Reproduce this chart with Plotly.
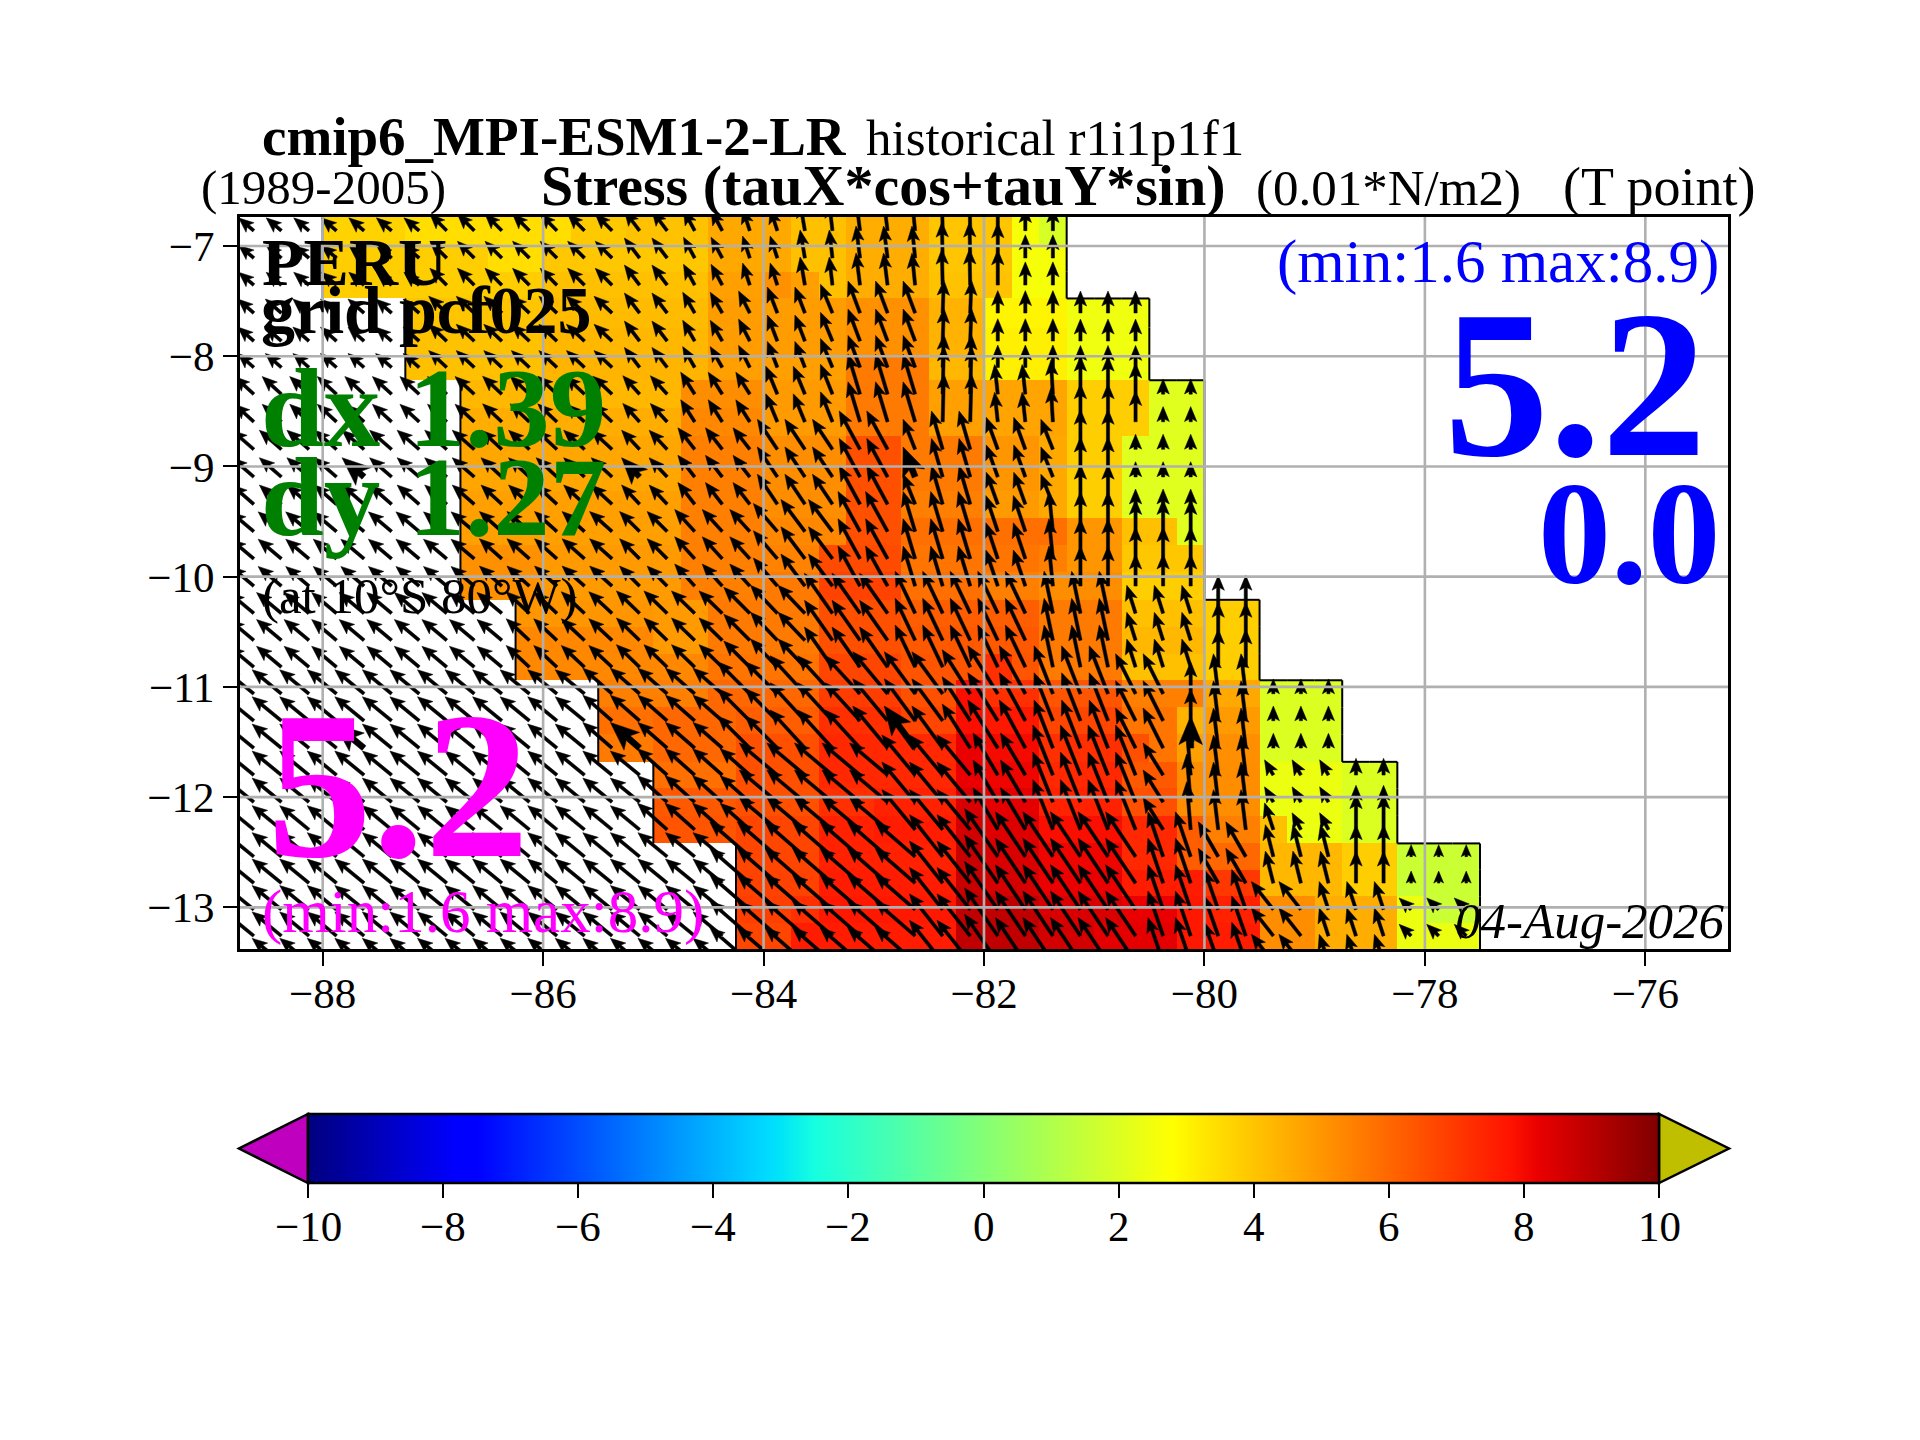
import plotly.graph_objects as go

# axes box in the page, pixels (the page body adds 8 px round the figure)
L, R, T, B = 240, 1728, 217, 949
W, H = 1920, 1440
BODY = 8
LON_MIN, LON_MAX = -88.75, -75.25
LAT_MIN, LAT_MAX = -13.378, -6.737
x_per_deg = (R - L) / (LON_MAX - LON_MIN)
y_per_deg = (B - T) / (LAT_MAX - LAT_MIN)
N = None

lon_ticks = [-88, -86, -84, -82, -80, -78, -76]
lat_ticks = [-7, -8, -9, -10, -11, -12, -13]
cbar_ticks = [-10, -8, -6, -4, -2, 0, 2, 4, 6, 8, 10]

# cell edges, 0.25 deg in lon, the model grid is not quite regular in lat
lon_edges = [-88.75 + 0.25 * k for k in range(46)]
lat_edges = [-6.737, -6.985, -7.233, -7.476, -7.74, -7.985, -8.218, -8.47, -8.72,
             -8.97, -9.22, -9.465, -9.715, -9.96, -10.21, -10.455, -10.70, -10.94,
             -11.185, -11.43, -11.68, -11.92, -12.17, -12.42, -12.66, -12.90, -13.14,
             -13.378, -13.62]

# stress, 0.01 N/m2, one list per row from the north
stress = [
    [N]*3 + [3.7]*3 + [3.45]*6 + [3.9]*2 + [4.05]*3 + [4.6]*3 + [4.1]*2 + [4.5]*3 + [4.0]*3 + [2.6, 1.9],
    [N]*3 + [3.8]*6 + [3.45]*2 + [3.95]*6 + [4.6]*3 + [4.1]*2 + [4.5]*3 + [4.0]*3 + [2.6]*2,
    [N]*3 + [3.8]*8 + [4.1]*6 + [4.8]*2 + [5.1, 4.8, 4.1] + [4.5]*3 + [4.05]*3 + [2.6]*2,
    [N]*6 + [4.0]*5 + [4.2]*6 + [4.85]*5 + [5.1]*3 + [4.4]*2 + [3.0]*3 + [2.45]*3,
    [N]*6 + [4.05]*5 + [4.3]*6 + [4.85]*5 + [5.1]*3 + [4.4]*2 + [3.1]*3 + [2.45]*3,
    [N]*6 + [4.1]*5 + [4.35]*6 + [4.8]*5 + [5.6]*3 + [4.3]*2 + [3.1]*3 + [2.45]*3,
    [N]*8 + [4.3]*8 + [5.2]*3 + [4.9]*3 + [5.6]*3 + [4.8]*2 + [4.7]*3 + [3.8]*3 + [2.1]*2,
    [N]*8 + [4.5]*8 + [5.3]*3 + [4.9]*3 + [5.6]*3 + [4.8]*2 + [4.7]*3 + [3.8]*3 + [2.1]*2,
    [N]*8 + [4.65]*8 + [5.5]*3 + [5.2]*3 + [6.5]*2 + [5.6]*3 + [5.0]*2 + [4.6] + [3.8]*2 + [2.1]*3,
    [N]*8 + [4.65]*8 + [5.5]*3 + [5.2]*3 + [6.5]*2 + [5.6]*3 + [5.0]*2 + [4.6] + [3.8]*2 + [2.1]*3,
    [N]*8 + [4.8]*8 + [5.5]*3 + [5.2]*3 + [6.5]*2 + [5.5]*3 + [4.9]*2 + [4.6] + [3.8]*2 + [2.1]*3,
    [N]*8 + [4.8]*8 + [5.5]*3 + [5.3]*3 + [6.5]*2 + [5.8]*6 + [5.0]*2 + [4.1]*2 + [2.1],
    [N]*8 + [5.1]*3 + [4.9]*5 + [5.5]*3 + [5.4]*2 + [6.6]*3 + [5.7]*5 + [5.5] + [5.0]*2 + [3.95]*3,
    [N]*8 + [5.1]*3 + [4.9]*5 + [5.5]*3 + [5.6]*2 + [6.8]*3 + [5.8]*3 + [5.5]*2 + [5.2]*3 + [3.8]*3,
    [N]*10 + [5.0]*5 + [4.9]*2 + [5.6]*4 + [6.5]*3 + [6.2]*5 + [5.6]*3 + [4.1]*3 + [3.8]*2,
    [N]*10 + [5.3]*5 + [4.9]*2 + [5.6]*4 + [6.5]*3 + [6.3]*5 + [5.6]*3 + [4.3]*3 + [3.8]*2,
    [N]*10 + [5.3]*7 + [5.7]*4 + [6.7]*3 + [6.4]*3 + [7.2, 6.4] + [5.6]*3 + [4.1]*3 + [3.8]*2,
    [N]*13 + [5.5]*4 + [6.0]*4 + [6.9]*3 + [6.5]*2 + [7.9] + [7.2]*2 + [6.4]*3 + [5.5]*3 + [4.6]*2 + [2.0]*3,
    [N]*13 + [5.8]*2 + [6.0]*3 + [6.2]*3 + [7.2]*3 + [6.7]*2 + [7.9] + [7.7]*2 + [6.7]*3 + [5.7]*2 + [4.4] + [4.9]*2 + [2.0]*3,
    [N]*13 + [5.6]*2 + [6.0]*3 + [6.5]*3 + [7.35]*5 + [8.2] + [8.0]*2 + [7.2]*3 + [6.5, 5.7, 4.8] + [5.15]*2 + [2.0]*3,
    [N]*15 + [5.8]*3 + [6.5]*3 + [7.35]*5 + [8.2] + [8.1]*2 + [7.35]*3 + [6.3]*2 + [5.2] + [5.2]*2 + [2.4]*3 + [2.0]*2,
    [N]*15 + [6.3]*3 + [6.5]*3 + [7.2]*2 + [7.5]*3 + [8.5] + [8.3]*2 + [7.5]*3 + [6.5]*2 + [5.2] + [5.2]*2 + [2.4]*3 + [2.0]*2,
    [N]*15 + [6.4]*3 + [6.7]*3 + [7.5]*2 + [7.6]*3 + [8.6] + [8.4]*2 + [7.9]*3 + [7.35]*2 + [6.2] + [5.5]*2 + [4.1] + [2.4]*2 + [2.0]*2,
    [N]*18 + [6.7]*3 + [7.5]*5 + [8.75] + [8.5]*2 + [8.1]*3 + [7.35]*2 + [6.2] + [6.0]*2 + [4.3]*3 + [3.8]*2 + [1.6]*3,
    [N]*18 + [6.8]*3 + [7.6]*5 + [8.75] + [8.55]*2 + [8.2]*3 + [7.6]*3 + [7.0]*2 + [4.3]*3 + [3.8]*2 + [1.6]*3,
    [N]*18 + [6.85]*2 + [7.2] + [7.7]*5 + [8.9] + [8.9]*2 + [8.5]*3 + [8.2]*2 + [7.7] + [7.5]*2 + [5.2]*2 + [4.5]*3 + [2.4] + [1.6]*2,
    [N]*18 + [6.7]*2 + [7.6]*6 + [8.9] + [8.9]*2 + [8.6]*2 + [8.3]*3 + [7.7] + [7.6]*2 + [5.2]*2 + [4.5]*3 + [2.4]*3,
]
stress = [row + [N] * (45 - len(row)) for row in stress]

# wind stress vectors by block of rows, west to east up to the coast
u_a = [-3.8]*7 + [-4.2]*7 + [-3.8]*2 + [-2.8]*2 + [-1.8]*2 + [-1.2, -0.8] + [-1, -1, -0.8] + [-0.2]*2 + [0]*3
v_a = [3.2]*7 + [4.2]*7 + [5]*2 + [5.2]*2 + [5.5]*2 + [7]*2 + [8]*3 + [9]*2 + [8.8] + [5.8]*2
u_b = [-4]*7 + [-4.5]*7 + [-3.8]*2 + [-3]*2 + [-2.8] + [-2.5]*2 + [-3]*4 + [0.3]*2 + [0]*6
v_b = [3.5]*7 + [4.2]*7 + [5]*2 + [5.2]*2 + [5.5] + [6.5]*2 + [7.2] + [8]*3 + [8.2]*2 + [5.6]*3 + [5.5]*3
u_c = [-4.8]*14 + [-4.2]*2 + [-3.5]*3 + [-2.9]*2 + [-3]*4 + [0.3]*2 + [-0.8]*2 + [-0.5] + [0]*5
v_c = [4.4]*9 + [4.5]*5 + [4.6]*2 + [5.5]*3 + [7]*2 + [7.5] + [10]*3 + [12]*2 + [7.4]*2 + [8.5] + [9.5]*2 + [7.8] + [3.8]*2
u_d = [-5.5]*9 + [-5.2]*5 + [-4.5]*2 + [-4.2]*3 + [-5]*3 + [-5.2]*2 + [-3] + [-2.8]*2 + [-2.9]*2 + [-3] + [0]*5
v_d = [4.8]*16 + [5.4]*3 + [7.5]*3 + [9.6]*2 + [7.5] + [9.6]*2 + [8]*2 + [7.5] + [10]*2 + [3.8]*3
u_e = [-5.8]*9 + [-5.6]*5 + [-5]*5 + [-6]*3 + [-5.5]*2 + [-3]*5 + [-1] + [0]*5
v_e = [4.9]*9 + [5]*7 + [5.5]*3 + [7] + [8]*2 + [10]*5 + [9]*2 + [10]*3 + [8]*3
u_f = [-6.2]*10 + [-5.8]*8 + [-6.5] + [-6.7]*2 + [-7]*3 + [-5]*5 + [-2.2]*6 + [0]*2
v_f = [5.2]*10 + [5.4]*4 + [5.6]*4 + [6.5] + [7]*2 + [10]*3 + [10.5]*8 + [7]*3 + [9.5]*2
u_g = [-7.3]*18 + [-8]*2 + [-8.7]*4 + [-7.7]*2 + [-7, -7.5, -6.5] + [-4.7]*3 + [-5]*2 + [0] + [-1.2]*2 + [0]*3
v_g = [6]*13 + [6.4]*5 + [8]*2 + [9.5]*3 + [10.5]*3 + [11, 12, 12] + [12]*3 + [10]*2 + [8] + [10]*2 + [3.7]*3
u_h = [-7.3]*15 + [-7.4]*4 + [-9.5]*5 + [-8.3]*3 + [-6.2]*2 + [-5]*5 + [-1] + [-1.2]*2 + [-2.2]*3 + [0]*2
v_h = [6]*15 + [6.6]*4 + [8]*5 + [10]*3 + [10.5]*2 + [12.5]*4 + [8, 12] + [10]*2 + [3.8]*3 + [4.2]*2
v_h_south = [6]*15 + [6.6]*4 + [8]*5 + [10]*3 + [10.5]*2 + [12.5]*4 + [8, 12] + [10]*2 + [6.7] + [4.2]*2 + [9]*2
u_i = [-7.3]*18 + [-10]*7 + [-8.3]*3 + [-7.5]*5 + [-3.8]*2 + [-5]*2 + [-2]*3 + [0]*5
v_i = [6]*18 + [8.7]*7 + [10.5]*2 + [12] + [11.2]*7 + [8.7]*2 + [8]*5 + [3]*3
u_j = [-7.3]*18 + [-10]*7 + [-8.3]*3 + [-7.5]*5 + [-3.8]*2 + [-3.5]*2 + [-5.5]*2 + [-2.3]*3 + [-3]*3
v_j = [6]*18 + [8.7]*7 + [10.5]*2 + [12] + [11.2]*7 + [10]*2 + [7]*5 + [2.9]*3

u_rows = [u_a]*3 + [u_b]*3 + [u_c]*2 + [u_d]*3 + [u_e]*3 + [u_f]*3 + [u_g]*3 + [u_h]*3 + [u_i]*2 + [u_j]*3
v_rows = [v_a]*3 + [v_b]*3 + [v_c]*2 + [v_d]*3 + [v_e]*3 + [v_f]*3 + [v_g]*3 + [v_h]*2 + [v_h_south] + [v_i]*2 + [v_j]*3

# every tenth vector is drawn heavier in the reference
bold_cols = [4, 14, 24, 34]
bold_rows = [9, 19]

jet = [[0.0, "#00007f"], [0.11, "#0000ff"], [0.125, "#0000ff"], [0.34, "#00dbff"], [0.35, "#00e5f7"],
       [0.375, "#16ffe0"], [0.64, "#ffff00"], [0.66, "#ffea00"], [0.89, "#ff1300"], [0.91, "#ea0000"], [1.0, "#7f0000"]]
serif = "Liberation Serif"
UNIT_PX = 4.0  # one stress unit on the arrows


def arrow(x0, y0, u, v, k=1.0):
    # filled arrow polygon, tail on the cell centre, shape sized in pixels
    dx, dy = u * UNIT_PX, v * UNIT_PX
    ln = (dx * dx + dy * dy) ** 0.5
    sw, hw, hl, ha = 1.6 * k, 6.2 * k, 15.0 * k, 12.5 * k
    if ln < hl:
        s = ln / hl
        sw, hw, hl, ha = sw * s, hw * s, ln, ha * s
    ax, ay = dx / ln, dy / ln
    nx, ny = -ay, ax
    pts = [(-sw, 0), (-sw, ln - ha), (-hw, ln - hl), (0, ln), (hw, ln - hl), (sw, ln - ha), (sw, 0), (-sw, 0)]
    xs = [x0 + (ax * a + nx * b) / x_per_deg for b, a in pts]
    ys = [y0 + (ay * a + ny * b) / y_per_deg for b, a in pts]
    return xs + [None], ys + [None]


lat_mid = [(lat_edges[r] + lat_edges[r + 1]) / 2 for r in range(28)]
lon_mid = [(lon_edges[c] + lon_edges[c + 1]) / 2 for c in range(45)]
ax_x, ax_y = [], []
for r, (us, vs) in enumerate(zip(u_rows, v_rows)):
    for c, (u, v) in enumerate(zip(us, vs)):
        k = 1.9 if (r in bold_rows and c in bold_cols) else 1.0
        xs, ys = arrow(lon_mid[c], lat_mid[r], u, v, k)
        ax_x += xs
        ax_y += ys

# ocean outline, taken from the edge of the stress cells
out_x, out_y = [], []
for r in range(27):
    for c in range(45):
        if stress[r][c] is None:
            continue
        if c == 0 or stress[r][c - 1] is None:
            out_x += [lon_edges[c], lon_edges[c], None]
            out_y += [lat_edges[r], lat_edges[r + 1], None]
        if c == 44 or stress[r][c + 1] is None:
            out_x += [lon_edges[c + 1], lon_edges[c + 1], None]
            out_y += [lat_edges[r], lat_edges[r + 1], None]
        if r > 0 and stress[r - 1][c] is None:
            out_x += [lon_edges[c], lon_edges[c + 1], None]
            out_y += [lat_edges[r], lat_edges[r], None]

grid_x, grid_y = [], []
for t in lon_ticks:
    grid_x += [t, t, None]
    grid_y += [LAT_MIN, LAT_MAX, None]
for t in lat_ticks:
    grid_x += [LON_MIN, LON_MAX, None]
    grid_y += [t, t, None]

fig = go.Figure()
fig.add_trace(go.Heatmap(
    x=lon_edges, y=lat_edges[:28][::-1], z=stress[::-1], zmin=-10, zmax=10,
    colorscale=jet, hoverinfo="skip",
    colorbar=dict(orientation="h", x=(308 - L) / (R - L), xanchor="left", y=(B - 1114) / (B - T), yanchor="top",
                  lenmode="pixels", len=1351, thicknessmode="pixels", thickness=69, xpad=0, ypad=0,
                  outlinewidth=2.5, outlinecolor="black", tickmode="array", tickvals=cbar_ticks,
                  ticks="outside", ticklen=14, tickwidth=2.2, tickcolor="black", showticklabels=False),
))
fig.add_trace(go.Scatter(x=out_x, y=out_y, mode="lines", line=dict(color="black", width=2), hoverinfo="skip"))
fig.add_trace(go.Scatter(x=ax_x, y=ax_y, mode="lines", fill="toself", fillcolor="black",
                         line=dict(color="black", width=0.5), hoverinfo="skip"))
fig.add_trace(go.Scatter(x=grid_x, y=grid_y, mode="lines", line=dict(color="#b0b0b0", width=2.6), hoverinfo="skip"))


def label(text, x_px, base_px, size, color="black", anchor="left"):
    fig.add_annotation(x=(x_px - L) / (R - L), y=(B - (base_px + 0.234 * size)) / (B - T),
                       xref="paper", yref="paper", xanchor=anchor, yanchor="bottom", showarrow=False,
                       borderpad=0, text=text, font=dict(family=serif, size=size, color=color))


label("<b>cmip6_MPI-ESM1-2-LR</b>", 261, 155, 55)
label("historical r1i1p1f1", 865, 155, 51)
label("(1989-2005)", 200, 205, 49)
label("<b>Stress (tauX*cos+tauY*sin)</b>", 540, 205, 58)
label("(0.01*N/m2)", 1255, 205, 51)
label("(T point)", 1562, 205, 54)
label("<b>PERU</b>", 261, 285, 68)
label("<b>grid pcf025</b>", 260, 333, 68)
label("<b>dx 1.39</b>", 260, 445, 113, "#008000")
label("<b>dy 1.27</b>", 260, 534, 113, "#008000")
label("(at 10°S 80°W)", 261, 613, 51)
label("<b>5.2</b>", 266, 853, 210, "#ff00ff")
label("(min:1.6 max:8.9)", 261, 933, 61, "#ff00ff")
label("(min:1.6 max:8.9)", 1720, 283, 61, "#0000ff", "right")
label("<b>5.2</b>", 1708, 452, 210, "#0000ff", "right")
label("<b>0.0</b>", 1722, 582, 146, "#0000ff", "right")
label("<i>04-Aug-2026</i>", 1726, 938, 51, "black", "right")
for t in cbar_ticks:
    label(str(t).replace("-", "\u2212"), 308 + (t + 10) / 20 * 1351, 1241, 43, "black", "center")


def px_path(points):
    return "M " + " L ".join(f"{(x - L) / (R - L)},{(B - y) / (B - T)}" for x, y in points) + " Z"


fig.add_shape(type="path", xref="paper", yref="paper", path=px_path([(308, 1114), (308, 1183), (239, 1148.5)]),
              fillcolor="#bf00bf", line=dict(color="black", width=2.5))
fig.add_shape(type="path", xref="paper", yref="paper", path=px_path([(1659, 1114), (1659, 1183), (1729, 1148.5)]),
              fillcolor="#bfbf00", line=dict(color="black", width=2.5))

axis_style = dict(showgrid=False, zeroline=False, showline=True, mirror=True, linecolor="black", linewidth=2.6,
                  ticks="outside", ticklen=14, tickwidth=2.2, tickcolor="black", tickmode="array",
                  tickfont=dict(family=serif, size=43, color="black"))
fig.update_xaxes(range=[LON_MIN, LON_MAX], tickvals=lon_ticks, ticklabelstandoff=-9, **axis_style)
fig.update_yaxes(range=[LAT_MIN, LAT_MAX], tickvals=lat_ticks, **axis_style)
fig.update_layout(width=W - 2 * BODY, height=H - 2 * BODY, showlegend=False, paper_bgcolor="white", plot_bgcolor="white",
                  margin=dict(l=L - BODY, r=W - BODY - R, t=T - BODY, b=H - BODY - B, pad=0, autoexpand=False))

fig.write_html("out.html")
